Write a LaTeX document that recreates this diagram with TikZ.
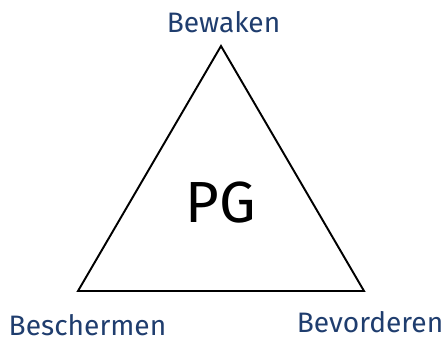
\documentclass[tikz,border=0pt]{standalone}
\usepackage{fontspec}
\setmainfont{Fira Sans}
\usepackage{xcolor}
\usepackage{tikz}
\usetikzlibrary{positioning,calc}
\definecolor{pgblue}{HTML}{1F3D6E}

\begin{document}
\begin{tikzpicture}[lbl/.style={text=pgblue,font=\fontsize{16}{18}\selectfont,anchor=base,inner sep=0pt}]
  \useasboundingbox (0,0) rectangle (8.88,6.84);
  \coordinate (top) at (4.42,5.92);
  \coordinate (left) at (1.56,1.02);
  \coordinate (right) at (7.28,1.02);
  \draw[line width=1.1pt,line join=miter] (top)--(left)--(right)--cycle;
  \node[anchor=base,inner sep=0pt,font=\fontsize{33}{36}\selectfont] (pg) at (4.42,2.38) {PG};
  \node[lbl] (bewaken) at (4.47,6.18) {Bewaken};
  \node[lbl] (beschermen) at (1.75,0.12) {Beschermen};
  \node[lbl] (bevorderen) at (7.40,0.18) {Bevorderen};
\end{tikzpicture}
\end{document}
